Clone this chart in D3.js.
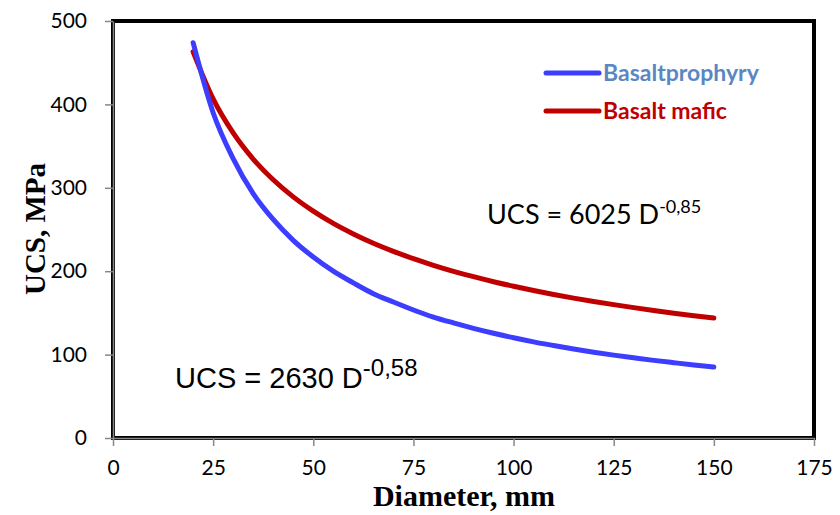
<!DOCTYPE html>
<html lang="en">
<head>
  <meta charset="UTF-8">
  <title>UCS vs Diameter</title>
  <script src="https://d3js.org/d3.v7.min.js"></script>
  <style>
    body { margin: 0; background: #fff; }
    .tick text { font: 21px Lato, "Open Sans", sans-serif; fill: #000; }
    .tick line, .domain { stroke: #888; stroke-width: 1.5px; }
    .title { font-family: "Liberation Serif", "Times New Roman", serif; font-weight: bold; }
  </style>
</head>
<body>
  <svg width="840" height="515"></svg>
  <script>
    // diameters, mm
    const diameter = [20, 25, 30, 35, 40, 45, 50, 55, 60, 65, 70, 75, 80, 85,
                      90, 95, 100, 105, 110, 115, 120, 125, 130, 135, 140, 145, 150];
    // UCS, MPa
    const prophyry = [474, 390, 335, 293, 262, 237, 217, 200, 186, 173, 163, 153.5, 145, 138,
                      131.5, 125.6, 120.2, 115.3, 110.9, 106.7, 102.9, 99.4, 96.2, 93.1, 90.3, 87.6, 85.2];
    const mafic = [463, 406.6, 365.8, 334.5, 309.6, 289.1, 272, 257.3, 244.7, 233.6, 223.8, 215, 207.1, 199.9,
                   193.4, 187.4, 182, 176.9, 172.1, 167.7, 163.7, 159.9, 156.3, 152.9, 149.7, 146.7, 143.9];
    const xTicks = [0, 25, 50, 75, 100, 125, 150, 175];
    const yTicks = [0, 100, 200, 300, 400, 500];

    const series = [
      { name: "Basaltprophyry", values: prophyry, color: "#3d3dff", labelColor: "#5a87c3" },
      { name: "Basalt mafic", values: mafic, color: "#c00000", labelColor: "#c00000" }
    ];

    const svg = d3.select("svg");
    const mLeft = 113, mRight = 814, mTop = 21, mBottom = 438;

    const x = d3.scaleLinear().domain([0, 175]).range([mLeft, mRight]);
    const y = d3.scaleLinear().domain([0, 500]).range([mBottom, mTop]);

    // plot area frame
    svg.append("rect")
      .attr("x", mLeft).attr("y", mTop)
      .attr("width", mRight - mLeft).attr("height", mBottom - mTop)
      .attr("fill", "none").attr("stroke", "#000").attr("stroke-width", 4);

    svg.append("g")
      .attr("transform", `translate(0,${mBottom})`)
      .call(d3.axisBottom(x).tickValues(xTicks).tickSize(8).tickPadding(14).tickSizeOuter(0));

    svg.append("g")
      .attr("transform", `translate(${mLeft},0)`)
      .call(d3.axisLeft(y).tickValues(yTicks).tickSize(8).tickPadding(18).tickSizeOuter(0));

    const line = d3.line()
      .x((d, i) => x(diameter[i]))
      .y(d => y(d))
      .curve(d3.curveMonotoneX);

    svg.append("g").selectAll("path")
      .data(series.slice().reverse())
      .join("path")
        .attr("d", d => line(d.values))
        .attr("fill", "none")
        .attr("stroke", d => d.color)
        .attr("stroke-width", 5)
        .attr("stroke-linecap", "round");

    // legend
    const legend = svg.append("g").selectAll("g")
      .data(series)
      .join("g")
        .attr("transform", (d, i) => `translate(546,${73 + i * 38})`);
    legend.append("line")
      .attr("x1", 0).attr("x2", 53)
      .attr("stroke", d => d.color).attr("stroke-width", 5)
      .attr("stroke-linecap", "round");
    legend.append("text")
      .attr("x", 57).attr("dy", "0.35em")
      .attr("fill", d => d.labelColor)
      .style("font", "bold 23px Lato, 'Open Sans', sans-serif")
      .text(d => d.name);

    // equations
    const eq1 = svg.append("text")
      .attr("x", 487).attr("y", 224)
      .style("font", "27px Lato, 'Open Sans', sans-serif");
    eq1.append("tspan").text("UCS = 6025 D");
    eq1.append("tspan").attr("dy", -11).style("font-size", "18px").text("-0,85");

    const eq2 = svg.append("text")
      .attr("x", 175).attr("y", 388)
      .style("font", "29px 'Liberation Sans', Arial, sans-serif");
    eq2.append("tspan").text("UCS = 2630 D");
    eq2.append("tspan").attr("dy", -12).style("font-size", "24px").text("-0,58");

    // axis titles
    svg.append("text").attr("class", "title")
      .attr("x", 464).attr("y", 506)
      .attr("text-anchor", "middle")
      .style("font-size", "30px")
      .text("Diameter, mm");

    svg.append("text").attr("class", "title")
      .attr("transform", `translate(45,229) rotate(-90)`)
      .attr("text-anchor", "middle")
      .style("font-size", "29px")
      .text("UCS, MPa");
  </script>
</body>
</html>
